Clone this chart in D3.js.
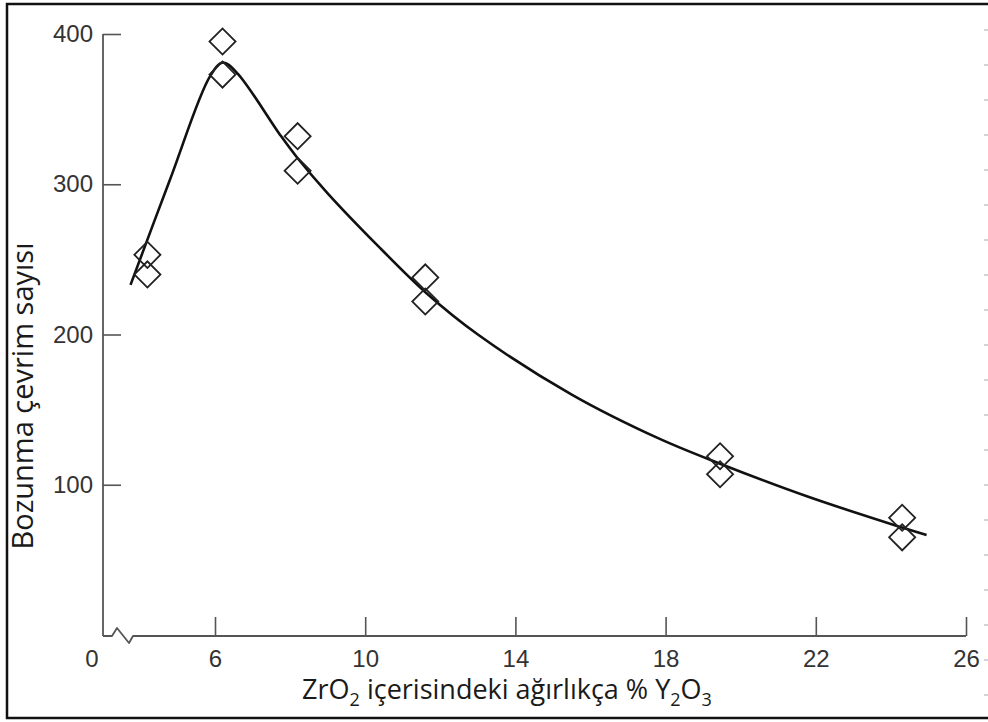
<!DOCTYPE html>
<html>
<head>
<meta charset="utf-8">
<script src="https://cdn.jsdelivr.net/npm/d3@7"></script>
<style>
  body { margin: 0; background: #fff; }
  .tick text { font-family: "Liberation Sans", Arial, sans-serif; font-size: 24px; fill: #333; }
  .axis-title { font-family: "Open Sans", sans-serif; fill: #1a1a1a; }
</style>
</head>
<body>
<div class="chart"></div>
<script>
// wt% Y2O3 of each sample pair
var pctY2O3 = [4.2, 6.2, 8.2, 11.6, 19.45, 24.3];
// two measurements at each composition (cycles to failure)
var cyclesHigh = [253, 395, 332, 238, 119, 78];
var cyclesLow = [240, 373, 309, 222, 107, 65];

// fitted trend curve
var curveX = [3.75, 4.8, 5.87, 6.21, 6.59, 7.73, 8.18, 9.0, 10.3, 11.61, 13.0, 15.5, 17.8, 19.45, 21.8, 24.3, 24.95];
var curveY = [233, 303, 372, 381, 374, 333, 318, 294, 260, 228, 200, 160, 131, 114, 92, 71.5, 66.5];

var xTicks = [6, 10, 14, 18, 22, 26];
var yTicks = [100, 200, 300, 400];

var svgWidth = 988;
var svgHeight = 722;

var svg = d3
  .select(".chart")
  .append("svg")
  .attr("width", svgWidth)
  .attr("height", svgHeight);

// outer frame of the figure
svg.append("path")
  .attr("d", "M988,4 H7 V718 H988")
  .attr("fill", "none")
  .attr("stroke", "#111")
  .attr("stroke-width", 2.5);

svg.selectAll(".edge-dash")
  .data(d3.range(30, 700, 35))
  .enter()
  .append("line")
  .attr("x1", 984).attr("x2", 988)
  .attr("y1", (d) => d).attr("y2", (d) => d)
  .attr("stroke", "#aaa")
  .attr("stroke-width", 1);

var originX = 103;

var xScale = d3.scaleLinear().domain([6, 26]).range([215, 966]);
var yScale = d3.scaleLinear().domain([0, 400]).range([635, 34]);

var axisY = yScale(0) + 1;

// x axis (ticks point up, domain drawn by hand with a break)
var xAxis = d3.axisBottom(xScale).tickValues(xTicks).tickSize(-19).tickPadding(14);
var gx = svg.append("g")
  .attr("transform", `translate(0,${axisY})`)
  .call(xAxis);
gx.select(".domain").remove();
gx.selectAll(".tick line").attr("stroke", "#555").attr("stroke-width", 1.6);

svg.append("path")
  .attr("d", `M${originX},${axisY} H112 L117,${axisY - 8} L129,${axisY + 7} L133,${axisY} H${xScale(26)}`)
  .attr("fill", "none")
  .attr("stroke", "#555")
  .attr("stroke-width", 1.8)
  .attr("stroke-linejoin", "round");

// origin label of the broken axis
svg.append("text")
  .attr("x", originX - 11)
  .attr("y", axisY + 14)
  .attr("dy", "0.71em")
  .attr("text-anchor", "middle")
  .style("font-family", "Liberation Sans, Arial, sans-serif")
  .style("font-size", "24px")
  .style("fill", "#333")
  .text("0");

// y axis (ticks point inward)
var yAxis = d3.axisLeft(yScale).tickValues(yTicks).tickSize(-18).tickPadding(10);
var gy = svg.append("g")
  .attr("transform", `translate(${originX},0)`)
  .call(yAxis);
gy.select(".domain").remove();
gy.selectAll(".tick line").attr("stroke", "#555").attr("stroke-width", 1.6);

svg.append("line")
  .attr("x1", originX).attr("x2", originX)
  .attr("y1", yScale(400)).attr("y2", axisY)
  .attr("stroke", "#555")
  .attr("stroke-width", 1.8);

// trend curve
var curveData = curveX.map((d, i) => ({ x: d, y: curveY[i] }));
svg.append("path")
  .datum(curveData)
  .attr("fill", "none")
  .attr("stroke", "#111")
  .attr("stroke-width", 2.6)
  .attr("d", d3.line()
    .curve(d3.curveCatmullRom.alpha(0.5))
    .x((d) => xScale(d.x))
    .y((d) => yScale(d.y)));

// diamond markers
var points = [];
pctY2O3.forEach((p, i) => {
  points.push({ x: p, y: cyclesHigh[i] });
  points.push({ x: p, y: cyclesLow[i] });
});
var diamond = d3.symbol().type(d3.symbolSquare).size(340);
svg.selectAll(".pt")
  .data(points)
  .enter()
  .append("path")
  .attr("class", "pt")
  .attr("d", diamond)
  .attr("transform", (d) => `translate(${xScale(d.x)},${yScale(d.y)}) rotate(45)`)
  .attr("fill", "none")
  .attr("stroke", "#222")
  .attr("stroke-width", 1.8);

// axis titles
var xTitle = svg.append("text")
  .attr("class", "axis-title")
  .attr("x", 507)
  .attr("y", 699)
  .attr("text-anchor", "middle")
  .style("font-size", "27px");
xTitle.append("tspan").text("ZrO");
xTitle.append("tspan").attr("dy", 7).style("font-size", "18px").text("2");
xTitle.append("tspan").attr("dy", -7).text(" içerisindeki ağırlıkça % Y");
xTitle.append("tspan").attr("dy", 7).style("font-size", "18px").text("2");
xTitle.append("tspan").attr("dy", -7).text("O");
xTitle.append("tspan").attr("dy", 7).style("font-size", "18px").text("3");

svg.append("text")
  .attr("class", "axis-title")
  .attr("transform", "translate(33,396) rotate(-90)")
  .attr("text-anchor", "middle")
  .style("font-size", "29px")
  .text("Bozunma çevrim sayısı");
</script>
</body>
</html>
